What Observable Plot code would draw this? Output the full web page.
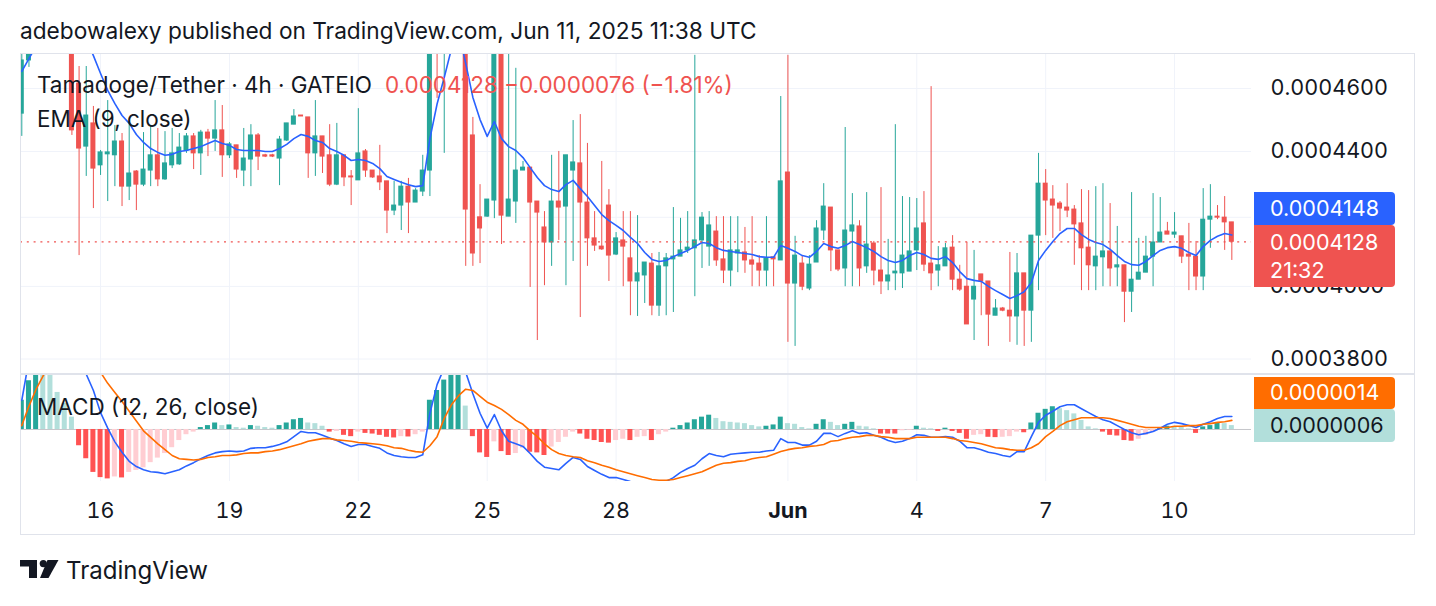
<!DOCTYPE html>
<html><head><meta charset="utf-8">
<script src="https://cdn.jsdelivr.net/npm/d3@7"></script>
<script src="https://cdn.jsdelivr.net/npm/@observablehq/plot@0.6"></script>
<style>
body{margin:0;background:#fff;}
#root{position:relative;width:1436px;height:606px;overflow:hidden;background:#fff;font-family:Inter,Roboto,sans-serif;color:#131722;}
.abs{position:absolute;white-space:nowrap;}
</style></head><body><div id="root"></div>
<script>
// ---------- data (prices in units of 1e-7 USDT, 4h candles from 2025-05-14 04:00 UTC) ----------
const UNIT = 1e-7;
const firstCandle = "2025-05-14T04:00:00Z";
const candleHours = 4;
const open = [
4519,4692,4800,4900,4960,4880,4920,4850,4616,4415,
4488,4357,4391,4388,4431,4292,4338,4298,4341,4388,
4314,4357,4360,4403,4447,4394,4459,4440,4466,4388,
4419,4341,4375,4450,4388,4388,4378,4434,4484,4513,
4507,4394,4447,4388,4298,4388,4323,4311,4400,4341,
4323,4308,4220,4235,4292,4244,4277,4341,4990,4960,
5100,5150,4950,4450,4200,4202,4250,4710,4202,4247,
4341,4350,4247,4170,4126,4247,4232,4341,4363,4244,
4138,4114,4235,4091,4132,4080,4014,4031,4065,3946,
4057,4077,4085,4103,4109,4132,4114,4158,4077,4045,
4094,4097,4074,4065,4045,4083,4074,4335,4008,4065,
3994,4068,4161,4229,4103,4051,4158,4173,4057,4123,
4045,4014,4037,4037,4042,4103,4182,4065,4045,4057,
4111,4019,3999,3963,4034,4014,3918,3938,3932,3916,
4037,3932,4146,4301,4253,4241,4229,4223,4182,4111,
4057,4083,4100,4054,4060,3985,4019,4039,4085,4126,
4158,4149,4144,4091,4085,4028,4193,4202,4199,4185];
const high = [
4740,4850,4950,5020,4990,4980,4940,4870,4672,4672,
4542,4403,4561,4481,4456,4494,4341,4459,4481,4472,
4462,4472,4456,4456,4456,4466,4469,4561,4545,4428,
4419,4472,4484,4456,4391,4391,4447,4488,4532,4513,
4507,4561,4447,4484,4488,4388,4341,4535,4406,4341,
4419,4308,4308,4308,4317,4286,4388,5050,5080,5160,
5200,5180,4980,4507,4298,4253,4760,4760,4750,4666,
4369,4350,4247,4217,4388,4400,4388,4497,4516,4425,
4217,4369,4283,4155,4217,4217,4205,4068,4094,4097,
4094,4229,4197,4217,4709,4214,4217,4202,4202,4202,
4202,4170,4202,4088,4202,4083,4574,4709,4144,4088,
4088,4190,4301,4229,4103,4475,4271,4190,4274,4129,
4289,4135,4484,4262,4259,4256,4277,4606,4114,4123,
4146,4060,4126,4103,4034,4014,3963,3941,4097,4094,
4037,4146,4394,4344,4295,4247,4301,4235,4283,4280,
4292,4301,4241,4173,4060,4274,4138,4144,4271,4259,
4185,4214,4144,4182,4129,4286,4298,4235,4262,4185];
const low = [
4447,4669,4780,4870,4850,4860,4800,4450,4088,4323,
4226,4326,4247,4292,4232,4250,4220,4292,4292,4292,
4311,4347,4357,4394,4344,4326,4384,4400,4320,4378,
4317,4292,4292,4341,4381,4381,4295,4431,4484,4510,
4317,4323,4332,4292,4295,4292,4235,4311,4320,4317,
4280,4152,4205,4161,4152,4244,4262,4262,4568,4394,
5000,4900,4057,4057,4065,4200,4196,4120,4202,4182,
4341,3997,3850,4002,4057,4132,4002,4071,3913,4057,
4100,4103,4014,4088,3999,3918,3916,3952,3918,3916,
3918,3927,4085,4094,3971,4051,4057,4057,4008,3999,
4039,4037,3999,3999,3999,3999,4074,3845,3834,3988,
3988,4068,4132,4042,4042,3999,3999,3999,4037,4002,
3977,3988,3988,3994,4042,4045,4042,3988,3999,4057,
3988,3986,3894,3850,3918,3834,3918,3929,3845,3837,
3834,3845,3988,4146,4138,4158,4199,4060,3988,3988,
3988,3999,3999,3999,3899,3927,4019,4039,3999,4126,
4149,4138,4065,3988,3988,3988,4109,4193,4103,4074];
const close = [
4692,4800,4900,4960,4880,4920,4850,4466,4409,4513,
4347,4397,4397,4431,4292,4332,4298,4344,4388,4314,
4363,4394,4412,4447,4394,4459,4440,4466,4388,4422,
4344,4378,4450,4384,4384,4384,4437,4488,4510,4510,
4394,4447,4384,4298,4388,4320,4320,4394,4341,4320,
4305,4220,4235,4292,4244,4280,4341,4990,4960,5100,
5150,4950,4223,4094,4167,4253,4710,4205,4253,4341,
4350,4244,4214,4126,4247,4229,4388,4366,4244,4138,
4117,4106,4088,4138,4114,4014,4037,4068,3946,4057,
4080,4085,4103,4111,4132,4199,4176,4074,4045,4103,
4103,4074,4062,4045,4080,4077,4308,4008,4088,3999,
4062,4167,4232,4103,4048,4161,4176,4051,4120,4045,
4014,4031,4042,4088,4100,4167,4062,4037,4060,4109,
4019,3991,3894,3999,4014,3921,3938,3932,3916,4037,
3932,4146,4301,4250,4235,4226,4220,4179,4109,4060,
4085,4100,4051,4060,3985,4019,4039,4085,4126,4155,
4149,4155,4085,4085,4028,4193,4202,4199,4185,4128];
const ema9 = [
4656,4698,4740,4780,4805,4825,4840,4840,4810,4765,
4708,4649,4594,4551,4513,4488,4453,4428,4409,4397,
4388,4391,4400,4403,4409,4415,4425,4434,4425,4419,
4406,4403,4403,4403,4400,4400,4409,4422,4440,4453,
4447,4434,4428,4409,4400,4388,4372,4375,4372,4363,
4347,4323,4314,4305,4298,4292,4295,4440,4550,4636,
4730,4790,4682,4571,4500,4447,4494,4440,4415,4403,
4381,4350,4320,4295,4283,4277,4298,4311,4286,4262,
4235,4208,4190,4176,4161,4141,4123,4097,4077,4071,
4074,4085,4094,4103,4114,4126,4123,4111,4103,4100,
4097,4094,4091,4085,4083,4083,4117,4109,4100,4088,
4083,4100,4123,4114,4109,4117,4129,4120,4111,4100,
4085,4074,4068,4074,4088,4097,4091,4080,4077,4085,
4068,4042,4022,4017,4014,4000,3988,3977,3966,3974,
3985,4011,4074,4103,4129,4152,4167,4167,4149,4135,
4126,4120,4106,4088,4071,4062,4060,4071,4088,4103,
4111,4114,4109,4097,4088,4114,4132,4144,4152,4148];
// MACD (12, 26, close), units of 1e-7
const macdLine = [
45,107,148,170,185,180,165,145,110,85,
60,26,2,-19,-35,-49,-57,-62,-65,-66,
-68,-65,-62,-56,-51,-45,-40,-36,-34,-33,
-34,-33,-29,-28,-28,-26,-23,-19,-11,-3,
-5,-5,-9,-13,-17,-22,-26,-23,-23,-26,
-29,-36,-40,-42,-43,-43,-39,25,69,95,
115,120,88,55,25,2,23,-2,-18,-22,
-26,-37,-49,-58,-60,-62,-52,-43,-46,-57,
-63,-69,-74,-74,-77,-80,-82,-88,-90,-87,
-80,-74,-66,-60,-55,-45,-37,-40,-42,-38,
-37,-36,-35,-35,-33,-32,-14,-20,-20,-24,
-24,-18,-6,-6,-11,-6,-2,-6,-5,-9,
-12,-17,-20,-18,-14,-8,-9,-12,-12,-11,
-12,-18,-28,-28,-31,-35,-37,-40,-42,-34,
-34,-11,11,22,28,35,38,38,32,26,
20,15,12,6,0,-5,-8,-6,-3,2,
8,11,9,6,3,8,12,17,20,20];
const signalLine = [
6,36,62,83,100,115,125,130,125,115,
102,88,71,57,43,28,13,-2,-12,-22,
-31,-40,-45,-46,-47,-46,-43,-42,-40,-40,
-39,-37,-36,-36,-34,-33,-31,-28,-25,-22,
-18,-16,-14,-14,-16,-17,-18,-20,-21,-22,
-23,-25,-28,-29,-32,-34,-35,-25,-11,17,
38,52,62,60,51,42,37,31,23,14,
8,-2,-11,-22,-31,-37,-40,-42,-43,-48,
-51,-55,-58,-62,-65,-68,-71,-74,-77,-78,
-78,-77,-74,-71,-68,-65,-60,-55,-52,-51,
-49,-48,-45,-43,-42,-38,-34,-31,-29,-28,
-26,-25,-23,-18,-17,-14,-12,-11,-9,-9,
-11,-12,-14,-14,-14,-12,-12,-12,-12,-12,
-14,-17,-18,-20,-22,-25,-28,-29,-31,-32,
-32,-28,-22,-11,-3,6,12,15,18,18,
18,18,17,14,11,8,5,3,3,3,
3,5,5,6,6,8,9,11,12,14];
const histogram = [
45,75,88,88,86,57,40,19,-25,-45,
-66,-74,-76,-73,-74.5,-66,-63,-59,-51,-44,
-37,-28,-17,-8,-4,3,6,10,6,7,
3,2,6,5,3,2,6,10,15,17,
10,9,5,-4,-3,-9,-11,-4,-6,-7,
-9,-12,-13,-11,-11.5,-8,-4,45,60,76,
86,88,36,-11,-36,-43,-19,-34,-40,-37,
-29,-35,-36,-40,-27,-20,-12,-4,-7,-15,
-17,-20,-21,-17,-15,-17,-12,-11,-17,-8,
-4,2,6,10,15,19,22,17,12,11,
10,9,6,4,5,7,19,9,8,3,
1,8,15,11,6,8,11,5,4,1,
-7,-7,-7,-2,-1,5,2,1,-3,2,
-3,-6,-15,-9,-8,-12,-12.5,-12,-11,-4,
-5,10,25,31,35,32,29,24,14,4,
1,-4,-9,-10,-17,-18,-15,-9,-4,3,
5,4,3,1,-6,4,6,10,9,6];
const dayTicks = ["2025-05-16","2025-05-19","2025-05-22","2025-05-25","2025-05-28","2025-06-01","2025-06-04","2025-06-07","2025-06-10"];
const dayLabels = ["16","19","22","25","28","Jun","4","7","10"];
const priceTicks = [3800,4000,4200,4400,4600];
const priceLabelTicks = [3800,4400,4600];   // 4200 sits under the EMA label, 4000 is drawn half-covered below
const dayChange = -76;        // ×1e-7
const dayChangePct = -1.81;
const barCountdown = "21:32";
const titleText = "adebowalexy published on TradingView.com, Jun 11, 2025 11:38 UTC";
const symbolText = "Tamadoge/Tether · 4h · GATEIO";

// ---------- styles ----------
const UP = "#26a69a", DOWN = "#ef5350", BLUE = "#2962ff", ORANGE = "#ff6d00";
const H_UP = "#26a69a", H_UP_L = "#b2dfdb", H_DN = "#ff5252", H_DN_L = "#ffcdd2";
const GRID = "#f0f3fa", INK = "#131722", FONT = "Inter";
const STEP = candleHours * 3600e3;
const t0 = Date.parse(firstCandle);
const HALF = 0.7 * STEP / 2;

const candles = close.map((c, i) => ({
  date: new Date(t0 + i * STEP),
  o: open[i] * UNIT, h: high[i] * UNIT, l: low[i] * UNIT, c: c * UNIT,
  ema: ema9[i] * UNIT, macd: macdLine[i] * UNIT, signal: signalLine[i] * UNIT,
  hist: histogram[i] * UNIT,
  hc: (() => { const v = histogram[i], p = i ? histogram[i - 1] : v - 1;
    return v >= 0 ? (v > p ? H_UP : H_UP_L) : (v > p ? H_DN_L : H_DN); })()
}));
const tickDates = dayTicks.map(s => new Date(s + "T00:00:00Z"));
const labelOf = new Map(tickDates.map((d, i) => [+d, dayLabels[i]]));
const last = candles[candles.length - 1];

// layout
const PLOT_W = 1395, RIGHT = 164, PX_PER_BAR = 7.16, FIRST_X = 1.3;
const xDomain = [new Date(t0 - FIRST_X / PX_PER_BAR * STEP), new Date(t0 + (PLOT_W - RIGHT - FIRST_X) / PX_PER_BAR * STEP)];

const ctx = document.createElement("canvas").getContext("2d");
function fit(text, target, weight = 400) { ctx.font = `${weight} 100px ${FONT}`; return 100 * target / ctx.measureText(text).width; }
const axisFont = fit("0.0004600", 114);

const root = document.getElementById("root");
function place(el, left, top, parent = root) { el.style.position = "absolute"; el.style.left = left + "px"; el.style.top = top + "px"; parent.appendChild(el); return el; }
function label(text, left, centerY, size, color = INK, weight = 400, parent = root) {
  const d = document.createElement("div"); d.className = "abs"; d.textContent = text;
  Object.assign(d.style, { left: left + "px", top: (centerY - size) + "px", height: (2 * size) + "px", lineHeight: (2 * size) + "px",
    fontSize: size + "px", color, fontWeight: weight, fontFamily: FONT });
  parent.appendChild(d); return d;
}
const fmt = v => v.toFixed(7);

// ---------- price pane ----------
const price = Plot.plot({
  width: PLOT_W, height: 321, marginLeft: 0, marginRight: RIGHT, marginTop: 0, marginBottom: 0,
  style: { fontFamily: FONT, fontSize: axisFont + "px", color: INK, background: "transparent", overflow: "visible" },
  x: { type: "utc", domain: xDomain, axis: null },
  y: { type: "log", domain: [0.00037587, 0.00047151], axis: null },
  marks: [
    Plot.ruleY(priceTicks.map(v => v * UNIT), { stroke: GRID }),
    Plot.ruleX(tickDates, { stroke: GRID }),
    Plot.axisY(priceLabelTicks.map(v => v * UNIT), { anchor: "right", tickSize: 0, tickPadding: 19, tickFormat: fmt, fill: INK }),
    Plot.ruleX(candles, { x: "date", y1: "l", y2: "h", stroke: d => d.c >= d.o ? UP : DOWN, clip: true }),
    Plot.rect(candles, { x1: d => new Date(+d.date - HALF), x2: d => new Date(+d.date + HALF),
      y1: d => Math.min(d.o, d.c), y2: d => Math.max(d.o, d.c), fill: d => d.c >= d.o ? UP : DOWN,
      insetTop: -0.5, insetBottom: -0.5, clip: true }),
    Plot.line(candles, { x: "date", y: "ema", stroke: BLUE, strokeWidth: 1.6, clip: true }),
    Plot.ruleY([last.c], { stroke: DOWN, strokeWidth: 1.3, strokeDasharray: "2 4.8" })
  ]
});
place(price, 20, 53);
const yScale = price.scale("y");

// ---------- MACD pane + time axis ----------
const macd = Plot.plot({
  width: PLOT_W, height: 161, marginLeft: 0, marginRight: RIGHT, marginTop: 0, marginBottom: 54,
  style: { fontFamily: FONT, fontSize: axisFont + "px", color: INK, background: "transparent", overflow: "visible" },
  x: { type: "utc", domain: xDomain, axis: null },
  y: { domain: [-80e-7, 84.6e-7], axis: null },
  marks: [
    Plot.ruleX(tickDates, { stroke: GRID }),
    Plot.ruleY([0], { stroke: "#9598a1", strokeOpacity: 0.55 }),
    Plot.rect(candles, { x1: d => new Date(+d.date - HALF), x2: d => new Date(+d.date + HALF),
      y1: 0, y2: "hist", fill: "hc", clip: true }),
    Plot.line(candles, { x: "date", y: "macd", stroke: BLUE, strokeWidth: 1.6, clip: true }),
    Plot.line(candles, { x: "date", y: "signal", stroke: ORANGE, strokeWidth: 1.6, clip: true }),
    Plot.axisX(tickDates, { anchor: "bottom", tickSize: 0, tickPadding: 21, tickFormat: d => labelOf.get(+d), fill: INK })
  ]
});
macd.querySelectorAll("text").forEach(t => { if (t.textContent === "Jun") t.style.fontWeight = "700"; });
place(macd, 20, 374);

// ---------- frame ----------
const frame = document.createElement("div");
Object.assign(frame.style, { width: "1393px", height: "480px", border: "1px solid #e0e3eb", boxSizing: "content-box" });
place(frame, 20, 53);
const sep = document.createElement("div");
Object.assign(sep.style, { width: "1395px", height: "2px", background: "#e0e3eb" });
place(sep, 20, 373);

// ---------- texts ----------
const titleSize = fit(titleText, 737);
label(titleText, 20, 31, titleSize);
const legSize = fit(symbolText, 335);
label(symbolText, 37, 85, legSize);
const chg = `${fmt(last.c)} ${dayChange < 0 ? "\u2212" : "+"}${fmt(Math.abs(dayChange) * UNIT)} (${dayChangePct < 0 ? "\u2212" : "+"}${Math.abs(dayChangePct).toFixed(2)}%)`;
label(chg, 385, 85, legSize, DOWN);
label("EMA (9, close)", 37, 119, legSize);
label("MACD (12, 26, close)", 37, 407, legSize);

// ---------- price-scale labels ----------
function box(top, h, bg, lines, color) {
  const d = document.createElement("div");
  Object.assign(d.style, { width: "141px", height: h + "px", background: bg, borderRadius: "0 4px 4px 0" });
  place(d, 1254, top);
  lines.forEach(([txt, cy]) => label(txt, 1270, cy, axisFont, color));
}
// half-covered 0.0004000 tick label: only its part below the last-price label is shown
const tick4000Y = 53 + yScale.apply(priceTicks[1] * UNIT);
const clipWrap = document.createElement("div");
Object.assign(clipWrap.style, { width: "130px", height: "16px", overflow: "hidden" });
place(clipWrap, 1265, 287);
label(fmt(priceTicks[1] * UNIT), 5, tick4000Y - 287, axisFont, INK, 400, clipWrap);

box(192, 33, BLUE, [[fmt(last.ema), 208.5]], "#fff");
box(225, 62, DOWN, [[fmt(last.c), 243], [barCountdown, 271]], "#fff");
box(377, 32, ORANGE, [[fmt(last.signal), 393]], "#fff");
box(409, 33, H_UP_L, [[fmt(last.hist), 426]], INK);

// ---------- footer logo ----------
const ns = "http://www.w3.org/2000/svg";
const logo = document.createElementNS(ns, "svg");
logo.setAttribute("width", "40"); logo.setAttribute("height", "19");
logo.innerHTML = `<path d="M0 0H17V18H9V6.5H0Z" fill="${INK}"/><circle cx="23.3" cy="3.6" r="3.6" fill="${INK}"/><path d="M27.5 0H38.5L28.5 18H20Z" fill="${INK}"/>`;
place(logo, 20, 560);
const tvSize = fit("TradingView", 142);
label("TradingView", 66, 571, tvSize);
</script></body></html>
